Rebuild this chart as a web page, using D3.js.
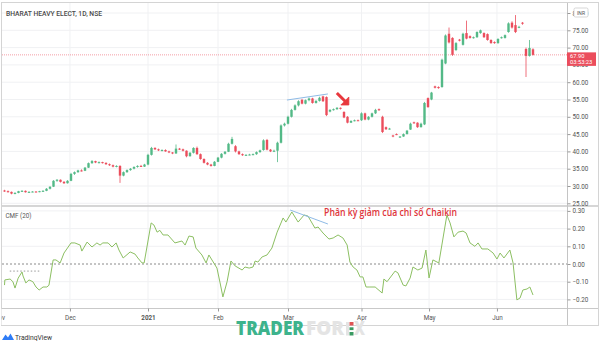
<!DOCTYPE html>
<html><head><meta charset="utf-8">
<script src="https://cdn.jsdelivr.net/npm/d3@7"></script>
<style>body{margin:0;background:#fff}svg{display:block}</style>
</head><body>
<svg id="c" width="600" height="341"></svg>
<script>
// ---------- DATA ----------
const opens  = [28.7,28.5,28.3,27.8,28.0,28.5,28.6,28.2,28.3,28.4,28.3,28.5,28.6,29.2,29.8,31.5,31.8,31.2,30.8,31.5,33.5,34.0,34.5,34.4,35.3,36.6,37.2,36.8,36.9,36.7,36.3,36.0,35.6,35.8,33.0,34.0,34.6,35.0,35.5,35.8,35.6,36.2,39.0,41.0,40.6,40.3,40.4,40.0,39.7,39.4,40.8,40.6,40.2,38.6,39.6,41.0,39.2,37.8,36.7,36.2,35.8,37.0,38.2,39.3,39.9,42.2,41.5,40.0,39.2,38.9,39.0,39.1,39.2,39.8,40.4,43.3,40.5,40.0,40.2,42.5,47.5,48.0,50.0,52.0,53.3,54.9,53.8,54.8,55.3,54.0,54.6,55.9,55.7,51.5,52.0,52.2,52.6,51.4,50.0,48.3,48.8,49.0,49.0,51.0,49.2,50.0,51.0,52.2,50.0,47.0,46.4,44.6,45.0,44.0,44.3,45.0,46.3,48.4,48.3,47.0,47.8,55.4,55.0,58.8,58.6,58.6,65.4,74.0,72.8,69.3,72.3,70.8,74.2,73.3,72.8,73.0,74.2,74.2,73.9,72.2,71.6,71.3,72.8,72.8,74.5,77.2,76.5,75.8,77.2,69.6,67.6,69.5];
const highs  = [28.9,28.7,28.4,28.2,28.6,28.8,28.7,28.5,28.5,28.5,28.6,28.8,29.4,29.9,31.7,32.0,31.9,31.4,31.7,33.8,34.2,34.7,34.8,35.5,36.8,37.5,37.3,37.1,37.0,36.8,36.5,36.2,36.0,36.0,34.2,34.8,35.2,35.7,36.0,36.1,36.4,39.3,41.3,41.2,40.8,40.6,40.6,40.2,39.8,42.0,41.0,40.8,40.3,39.8,41.2,41.4,39.4,38.0,36.9,36.4,37.2,38.4,39.5,40.1,42.5,44.2,41.8,40.2,39.4,39.2,39.3,39.4,40.0,40.5,43.5,43.6,40.7,40.5,42.8,47.8,48.3,50.3,52.3,53.6,54.8,55.2,55.0,55.6,55.5,54.8,55.8,56.1,55.9,52.2,52.4,52.8,52.7,51.6,50.2,49.0,49.2,49.2,51.3,51.2,50.2,51.2,52.3,52.4,50.3,47.2,46.8,44.8,45.2,44.4,45.2,46.2,48.3,48.6,48.4,48.3,54.3,55.6,57.2,59.0,58.8,66.8,73.8,75.8,73.0,71.6,72.5,74.3,77.8,73.5,73.2,74.7,75.2,74.4,74.1,72.4,71.8,72.7,73.2,73.8,77.3,77.6,79.4,76.3,77.4,70.0,72.2,69.8];
const lows   = [28.3,28.1,27.6,27.6,27.9,28.3,28.1,28.1,28.2,28.2,28.2,28.4,28.5,29.0,29.7,31.2,31.0,30.6,30.7,31.4,33.2,33.8,34.2,34.3,35.2,36.4,36.6,36.5,36.5,36.1,35.8,35.4,35.4,30.9,32.8,33.8,34.4,34.8,35.3,35.5,35.5,36.0,38.8,40.4,40.1,40.0,39.9,39.5,39.2,39.3,40.4,40.0,38.3,38.5,39.4,39.0,37.6,36.5,36.0,35.6,35.7,36.9,38.0,39.1,39.8,42.0,39.7,39.0,38.7,38.8,38.9,38.9,39.0,39.6,40.2,40.3,39.8,39.8,36.9,42.3,47.2,47.8,49.8,51.8,53.0,53.6,53.6,54.5,53.8,53.8,54.4,54.3,50.2,51.3,51.8,52.0,52.1,49.6,48.1,48.2,48.7,48.8,48.8,49.0,49.0,49.8,50.8,51.7,45.3,46.2,46.3,44.1,44.7,43.9,44.2,44.9,46.2,48.0,46.8,46.9,47.6,52.6,54.8,58.2,58.1,58.4,65.2,71.2,67.6,69.0,71.8,70.6,72.4,72.6,72.6,72.8,74.0,72.8,72.0,71.1,71.1,71.1,72.6,72.6,74.3,75.5,74.2,75.6,76.6,61.5,67.4,67.7];
const closes = [28.5,28.3,27.8,28.0,28.5,28.6,28.2,28.3,28.4,28.3,28.5,28.6,29.2,29.8,31.5,31.8,31.2,30.8,31.5,33.5,34.0,34.5,34.4,35.3,36.6,37.2,36.8,36.9,36.7,36.3,36.0,35.6,35.8,33.0,34.0,34.6,35.0,35.5,35.8,35.6,36.2,39.0,41.0,40.6,40.3,40.4,40.0,39.7,39.4,40.8,40.6,40.2,38.6,39.6,41.0,39.2,37.8,36.7,36.2,35.8,37.0,38.2,39.3,39.9,42.2,43.6,40.0,39.2,38.9,39.0,39.1,39.2,39.8,40.3,43.2,40.5,40.0,40.2,42.5,47.5,48.0,50.0,52.0,53.3,54.5,53.8,54.8,55.3,54.0,54.6,55.5,54.5,50.5,52.0,52.2,52.6,52.3,49.8,48.3,48.8,49.0,48.9,51.0,49.2,50.0,51.0,52.0,51.9,45.6,46.4,46.6,44.3,44.8,44.3,45.0,46.0,48.0,48.2,47.0,48.0,54.0,52.8,57.0,58.4,58.3,66.5,73.5,71.5,67.9,71.3,72.0,74.0,72.6,72.8,73.0,74.5,75.0,73.0,72.2,71.3,71.3,72.5,73.0,73.6,77.0,75.8,74.5,76.0,76.9,67.6,69.9,67.9];

// CMF (20) read points: [bar index, value]
const cmfPoints = [[0,-0.119],[0.1,-0.09],[1.6,-0.085],[2.4,-0.10],[3.0,-0.136],[3.9,-0.08],[5.0,-0.045],[5.3,-0.068],[6.1,-0.107],[7.0,-0.09],[8.1,-0.10],[9.0,-0.13],[9.9,-0.147],[11.0,-0.13],[12.1,-0.13],[12.7,-0.12],[13.9,0.023],[14.7,0.023],[15.9,0.006],[17.0,0.062],[19.0,0.119],[20.1,0.119],[21.6,0.107],[22.1,0.073],[23.6,0.124],[25.0,0.096],[26.4,0.119],[27.3,0.107],[28.1,0.119],[29.6,0.119],[30.7,0.096],[31.9,0.119],[32.7,0.079],[33.9,0.034],[35.9,0.068],[37.3,0.056],[38.1,0.034],[39.3,0.006],[39.9,0.006],[41.9,0.232],[42.7,0.22],[43.6,0.18],[44.4,0.19],[45.3,0.164],[46.7,0.164],[48.7,0.119],[50.7,0.13],[51.6,0.107],[52.7,0.158],[53.9,0.153],[54.7,0.09],[56.4,0.051],[57.6,0.006],[58.4,0.051],[60.7,-0.023],[61.6,-0.107],[62.4,-0.186],[63.6,-0.10],[64.7,0.017],[65.9,-0.011],[67.9,-0.034],[68.7,-0.017],[69.9,-0.023],[71.0,-0.017],[71.6,0.017],[72.4,0.011],[73.6,0.04],[75.0,0.051],[76.4,0.09],[77.9,0.18],[79.6,0.26],[80.4,0.237],[82.1,0.294],[83.9,0.237],[85.6,0.277],[86.7,0.271],[88.7,0.203],[89.6,0.209],[91.0,0.175],[92.7,0.141],[93.9,0.147],[95.3,0.164],[96.7,0.147],[97.9,0.107],[98.7,0.011],[99.6,-0.017],[100.7,-0.034],[101.6,-0.073],[102.4,-0.073],[103.3,-0.13],[104.4,-0.13],[105.9,-0.13],[107.9,-0.164],[108.4,-0.085],[109.3,-0.10],[111.6,-0.04],[112.4,-0.05],[113.9,-0.119],[114.7,-0.124],[115.9,-0.079],[116.7,-0.017],[118.1,-0.034],[119.3,-0.023],[120.4,0.079],[121.3,-0.079],[122.4,0.023],[124.1,0.006],[126.4,0.277],[127.3,0.232],[128.4,0.153],[129.6,0.18],[131.0,0.186],[131.9,0.175],[133.0,0.119],[134.4,0.10],[135.3,0.119],[136.4,0.085],[138.1,0.085],[139.6,0.062],[140.7,0.028],[141.6,0.062],[142.7,0.034],[144.4,0.079],[145.3,0.006],[146.4,-0.203],[147.3,-0.192],[148.1,-0.147],[149.3,-0.141],[150.1,-0.13],[151.0,-0.175]];

const priceTicks = [25,30,35,40,45,50,55,60,65,70,75,80];
const cmfTicks = [-0.2,-0.1,0,0.1,0.2,0.3];
const monthIdx = [-1.6,18.7,41,61,81,102,121.3,140.7];
const monthLabels = ["Nov","Dec","2021","Feb","Mar","Apr","May","Jun"];
const lastPrice = 67.90, lastTime = "03:53:23";
const priceTrend = [[80.7,54.85],[92.4,56.6]];
const cmfTrend = [[81.6,0.305],[92.4,0.226]];
const title = "BHARAT HEAVY ELECT, 1D, NSE";
const cmfTitle = "CMF (20)";
const note = "Phân kỳ giảm của chỉ số Chaikin";

// ---------- LAYOUT ----------
const svg = d3.select("#c");
const axX = 567;
const x = d3.scaleLinear().domain([0,151]).range([4.5,533]);
const yP = d3.scaleLinear().domain([25,80]).range([203.3,13]);
const yC = d3.scaleLinear().domain([-0.2,0.3]).range([299.4,210.9]);
const UP="#53b987", DN="#eb4d5c";
const FONT="Roboto, 'Noto Sans', sans-serif";

const defs = svg.append("defs");
defs.append("clipPath").attr("id","cp").append("rect").attr("x",2).attr("y",3).attr("width",axX-2).attr("height",203);
defs.append("clipPath").attr("id","cc").append("rect").attr("x",2).attr("y",207).attr("width",axX-2).attr("height",101);
defs.append("clipPath").attr("id","cx").append("rect").attr("x",2).attr("y",300).attr("width",axX-2).attr("height",25);

// grid
const grid = svg.append("g");
grid.selectAll(".gv").data(monthIdx.slice(1)).join("line")
  .attr("x1",d=>x(d)).attr("x2",d=>x(d)).attr("y1",3).attr("y2",308)
  .attr("stroke","#f0f1f3").attr("stroke-width",1);
grid.selectAll(".gh").data(priceTicks).join("line")
  .attr("x1",2).attr("x2",axX).attr("y1",d=>yP(d)).attr("y2",d=>yP(d))
  .attr("stroke","#f0f1f3");
grid.selectAll(".gc").data(cmfTicks.filter(d=>d!==0)).join("line")
  .attr("x1",2).attr("x2",axX).attr("y1",d=>yC(d)).attr("y2",d=>yC(d))
  .attr("stroke","#f0f1f3");

// frame
svg.append("rect").attr("x",1.5).attr("y",2.5).attr("width",597).attr("height",323)
  .attr("fill","none").attr("stroke","#d4d4d4");
svg.append("line").attr("x1",2).attr("x2",598).attr("y1",206).attr("y2",206).attr("stroke","#c9c9c9").attr("stroke-width",1.6);
svg.append("line").attr("x1",2).attr("x2",598).attr("y1",308.5).attr("y2",308.5).attr("stroke","#c9c9c9");
svg.append("line").attr("x1",axX+0.5).attr("x2",axX+0.5).attr("y1",3).attr("y2",325).attr("stroke","#c4c4c4");

// last price line
svg.append("line").attr("x1",2).attr("x2",axX).attr("y1",yP(lastPrice)).attr("y2",yP(lastPrice))
  .attr("stroke",DN).attr("stroke-opacity",0.55).attr("stroke-dasharray","1,1");

// candles
const bars = closes.map((c,i)=>({i,o:opens[i],h:highs[i],l:lows[i],c}));
const cg = svg.append("g").attr("clip-path","url(#cp)");
cg.selectAll("line.w").data(bars).join("line")
  .attr("x1",d=>x(d.i)).attr("x2",d=>x(d.i))
  .attr("y1",d=>yP(d.h)).attr("y2",d=>yP(d.l))
  .attr("stroke",d=>d.c>=d.o?UP:DN).attr("stroke-width",0.8);
cg.selectAll("rect.b").data(bars).join("rect")
  .attr("x",d=>x(d.i)-1.2).attr("width",2.4)
  .attr("y",d=>yP(Math.max(d.o,d.c)))
  .attr("height",d=>Math.max(1,Math.abs(yP(d.o)-yP(d.c))))
  .attr("fill",d=>d.c>=d.o?UP:DN);

// price trend line
cg.append("line").attr("x1",x(priceTrend[0][0])).attr("y1",yP(priceTrend[0][1]))
  .attr("x2",x(priceTrend[1][0])).attr("y2",yP(priceTrend[1][1]))
  .attr("stroke","#8fbbe6").attr("stroke-width",1);

// red arrow (anchored at data point)
const ax = x(98.1), ay = yP(53.7);
const arr = svg.append("g").attr("transform",`translate(${ax},${ay})`).attr("fill","#e8383d").attr("stroke","#e8383d");
arr.append("line").attr("x1",-10).attr("y1",-10).attr("x2",-3).attr("y2",-3).attr("stroke-width",3).attr("stroke-linecap","square");
arr.append("path").attr("d","M1,1 L1,-7 L-7,1 Z").attr("stroke-width",0.8).attr("stroke-linejoin","round");

// CMF pane
const ccg = svg.append("g").attr("clip-path","url(#cc)");
ccg.append("line").attr("x1",2).attr("x2",axX).attr("y1",yC(0)).attr("y2",yC(0))
  .attr("stroke","#8a8a8a").attr("stroke-dasharray","2,2");
ccg.append("line").attr("x1",x(1.5)).attr("x2",x(10.5)).attr("y1",yC(-0.04)).attr("y2",yC(-0.04))
  .attr("stroke","#9a9a9a").attr("stroke-dasharray","1.5,2");
ccg.append("path").datum(cmfPoints)
  .attr("d",d3.line().x(d=>x(d[0])).y(d=>yC(d[1])))
  .attr("fill","none").attr("stroke","#8cbf62").attr("stroke-width",1);
ccg.append("line").attr("x1",x(cmfTrend[0][0])).attr("y1",yC(cmfTrend[0][1]))
  .attr("x2",x(cmfTrend[1][0])).attr("y2",yC(cmfTrend[1][1]))
  .attr("stroke","#8fbbe6").attr("stroke-width",1);

// right axes
function styleAxis(g){
  g.select(".domain").remove();
  g.selectAll(".tick line").attr("stroke","#9a9a9a");
  g.selectAll(".tick text").attr("fill","#555").style("font-family",FONT).style("font-size","6.3px");
}
svg.append("g").attr("transform",`translate(${axX+0.5},0)`)
  .call(d3.axisRight(yP).tickValues(priceTicks).tickSize(3).tickPadding(2).tickFormat(d3.format(".2f")))
  .call(styleAxis);
svg.append("g").attr("transform",`translate(${axX+0.5},0)`)
  .call(d3.axisRight(yC).tickValues(cmfTicks).tickSize(3).tickPadding(2).tickFormat(d3.format(".2f")))
  .call(styleAxis);

// INR badge
svg.append("rect").attr("x",574).attr("y",8).attr("width",14).attr("height",9).attr("rx",1.5)
  .attr("fill","#fff").attr("stroke","#bdbdbd").attr("stroke-width",0.6);
svg.append("text").attr("x",581).attr("y",14.6).attr("text-anchor","middle").text("INR")
  .attr("fill","#555").style("font-family",FONT).style("font-size","5px");

// last price label
const lpY = yP(lastPrice);
svg.append("rect").attr("x",axX).attr("y",lpY-2.5).attr("width",29).attr("height",13.5).attr("fill",DN);
svg.append("text").attr("x",axX+3).attr("y",lpY+3).text(d3.format(".2f")(lastPrice))
  .attr("fill","#fff").style("font-family",FONT).style("font-size","5.8px");
svg.append("text").attr("x",axX+3).attr("y",lpY+9.3).text(lastTime)
  .attr("fill","#fff").style("font-family",FONT).style("font-size","5.8px");

// x axis
const xa = svg.append("g").attr("transform","translate(0,308.5)").attr("clip-path","url(#cx)");
xa.call(d3.axisBottom(x).tickValues(monthIdx).tickSize(3).tickPadding(4).tickFormat((d,i)=>monthLabels[i]));
xa.select(".domain").remove();
xa.selectAll(".tick line").attr("stroke","#9a9a9a");
xa.selectAll(".tick text").attr("fill","#555").style("font-family",FONT).style("font-size","6.3px")
  .style("font-weight",(d,i)=>monthLabels[i]==="2021"?"700":"400");
xa.attr("clip-path",null);
xa.selectAll(".tick").filter((d,i)=>i===0).attr("clip-path",null);
svg.append("rect").attr("x",0).attr("y",309).attr("width",1.5).attr("height",16).attr("fill","#fff");

// titles
svg.append("text").attr("x",6).attr("y",15.5).text(title).attr("textLength",96).attr("lengthAdjust","spacingAndGlyphs")
  .attr("fill","#4a4a4a").style("font-family",FONT).style("font-size","7px").style("font-weight","500");
svg.append("text").attr("x",5.5).attr("y",217.5).text(cmfTitle).attr("textLength",26).attr("lengthAdjust","spacingAndGlyphs")
  .attr("fill","#555").style("font-family",FONT).style("font-size","7px");

// annotation
svg.append("text").attr("x",x(91.3)).attr("y",yC(0.27)).text(note)
  .attr("textLength",133).attr("lengthAdjust","spacingAndGlyphs")
  .attr("fill","#e0353b").style("font-family","'Open Sans', 'Noto Sans', sans-serif").style("font-size","10.5px").style("font-weight","600");

// watermark
const wm = svg.append("g").style("font-family","'Open Sans', 'Noto Sans', sans-serif").style("font-weight","800").style("font-size","18.5px");
wm.append("text").attr("x",236).attr("y",335).text("TRADER").attr("textLength",68).attr("lengthAdjust","spacingAndGlyphs").attr("fill","#3db38c");
wm.append("text").attr("x",306).attr("y",335).text("FOR").attr("textLength",38).attr("lengthAdjust","spacingAndGlyphs").attr("fill","#e4e4e4");
wm.append("rect").attr("x",346).attr("y",322).attr("width",3).attr("height",13.5).attr("fill","#e4e4e4");
wm.append("rect").attr("x",349.5).attr("y",322).attr("width",4).attr("height",3.5).attr("fill","#e05555");
wm.append("rect").attr("x",349.5).attr("y",327.3).attr("width",4).attr("height",2.8).attr("fill","#3a9a62");
wm.append("rect").attr("x",349.5).attr("y",332).attr("width",4).attr("height",3.5).attr("fill","#3a9a62");
wm.append("text").attr("x",354).attr("y",335).text("X").attr("textLength",11).attr("lengthAdjust","spacingAndGlyphs").attr("fill","#e4e4e4");

// TradingView logo
svg.append("path").attr("d","M2,340 L5.5,334.5 L8,337.5 L10.5,333.5 L14,340 Z").attr("fill","#2e7cf6");
svg.append("text").attr("x",15).attr("y",339.5).text("TradingView").attr("textLength",37).attr("lengthAdjust","spacingAndGlyphs")
  .attr("fill","#333").style("font-family",FONT).style("font-size","7px");
</script>
</body></html>
